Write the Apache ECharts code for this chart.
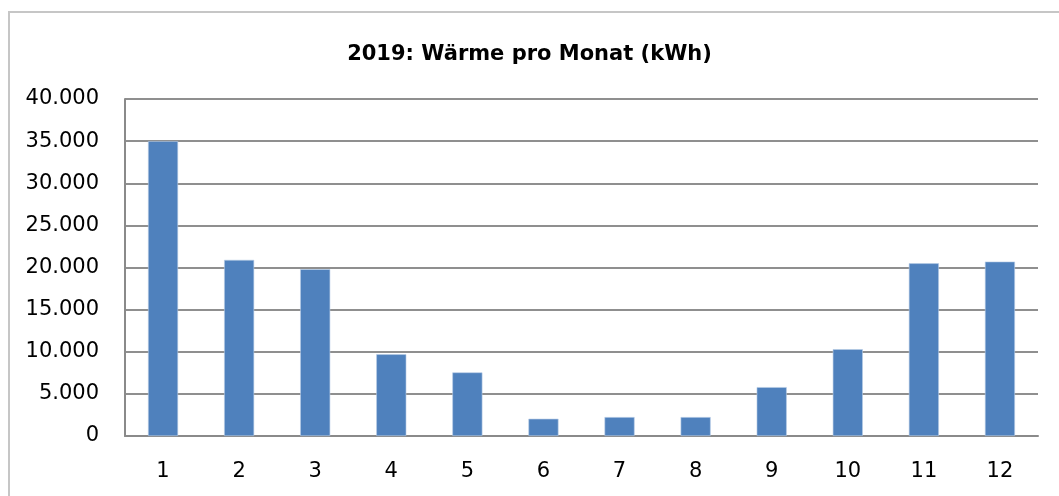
<!DOCTYPE html>
<html>
<head>
<meta charset="utf-8">
<script src="https://cdn.jsdelivr.net/npm/echarts@6/dist/echarts.min.js"></script>
<style>
html,body{margin:0;padding:0;background:#fff;}
#chart{width:1059px;height:496px;}
</style>
</head>
<body>
<div id="chart"></div>
<script>
const title = '2019: Wärme pro Monat (kWh)';
const months = ['1','2','3','4','5','6','7','8','9','10','11','12'];
const waerme = [35000, 20900, 19800, 9700, 7550, 2050, 2250, 2250, 5800, 10300, 20500, 20700];
const yTicks = [0, 5000, 10000, 15000, 20000, 25000, 30000, 35000, 40000];

const font = 'DejaVu Sans';
const chart = echarts.init(document.getElementById('chart'), null, {renderer: 'canvas'});
chart.setOption({
  animation: false,
  backgroundColor: '#ffffff',
  graphic: [{
    type: 'rect',
    shape: {x: 9, y: 12, width: 1200, height: 700},
    style: {fill: 'none', stroke: '#c6c6c6', lineWidth: 2},
    silent: true
  }],
  title: {
    text: title,
    left: 'center',
    top: 39,
    textStyle: {fontFamily: font, fontWeight: 'bold', fontSize: 21, color: '#000'}
  },
  grid: {left: 125, right: 21, top: 99, bottom: 60, containLabel: false},
  xAxis: {
    type: 'category',
    data: months,
    axisLine: {lineStyle: {color: '#8a8a8a', width: 2}},
    axisTick: {show: false},
    axisLabel: {fontFamily: font, fontSize: 21, color: '#000', margin: 25}
  },
  yAxis: {
    type: 'value',
    min: yTicks[0],
    max: yTicks[yTicks.length - 1],
    interval: yTicks[1] - yTicks[0],
    axisLine: {show: true, lineStyle: {color: '#8a8a8a', width: 2}},
    axisTick: {show: false},
    splitLine: {lineStyle: {color: '#8f8f8f', width: 2}},
    axisLabel: {
      fontFamily: font, fontSize: 21, color: '#000', margin: 26,
      padding: [4, 0, 0, 0],
      formatter: v => v.toString().replace(/\B(?=(\d{3})+(?!\d))/g, '.')
    }
  },
  series: [{
    type: 'bar',
    data: waerme,
    barWidth: '39.5%',
    itemStyle: {color: '#4f81bd', borderColor: '#b9cde5', borderWidth: 0.6}
  }]
});
</script>
</body>
</html>
